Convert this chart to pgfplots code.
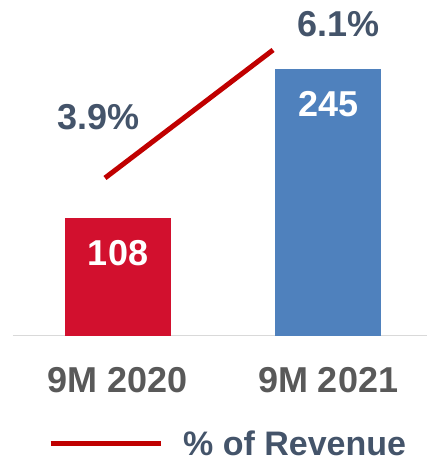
\documentclass[border=0pt]{standalone}
\usepackage{fontspec}
\setmainfont{Liberation Sans}
\usepackage{pgfplots}
\pgfplotsset{compat=1.18}
\definecolor{barred}{RGB}{210,16,46}
\definecolor{barblue}{RGB}{79,129,189}
\definecolor{linered}{RGB}{192,0,0}
\definecolor{slate}{RGB}{68,84,106}
\definecolor{labelgray}{RGB}{89,89,89}
\definecolor{axisgray}{RGB}{217,217,217}
\newcommand{\bigfont}{\fontsize{36}{40}\selectfont\bfseries}

\begin{document}
\begin{tikzpicture}
\path[use as bounding box] (0,0) rectangle (427pt,460pt);
% bars
\begin{axis}[
    at={(13pt,124pt)}, anchor=south west,
    scale only axis, width=414pt, height=336pt,
    xmin=-0.5, xmax=1.471, ymin=0, ymax=308.5,
    axis x line*=bottom, axis y line=none,
    x axis line style={-, axisgray, line width=1pt},
    xtick={0,1}, xticklabels={9M 2020, 9M 2021},
    major tick length=0pt,
    xticklabel style={font=\bigfont, text=labelgray, anchor=center, yshift=-44pt},
    ytick=\empty,
    ybar, bar width=0.505, bar shift=0pt,
    nodes near coords,
    /pgf/number format/assume math mode=true,
    every node near coord/.append style={font=\bigfont, text=white, anchor=center, yshift=-35pt},
    clip=false,
]
\addplot[fill=barred, draw=none, bar shift=0pt] coordinates {(0,108)};
\addplot[fill=barblue, draw=none, bar shift=0pt] coordinates {(1,245)};
\end{axis}
% % of revenue line
\begin{axis}[
    at={(13pt,124pt)}, anchor=south west,
    scale only axis, width=414pt, height=336pt,
    xmin=-0.5, xmax=1.471, ymin=1.184, ymax=6.959,
    hide axis, clip=false,
    legend style={at={(0.0845,-0.321)}, anchor=west, draw=none, fill=none,
        inner sep=0pt, nodes={inner sep=0pt},
        /tikz/every odd column/.style={column sep=20pt},
        font=\fontsize{34}{38}\selectfont\bfseries, text=slate},
    legend image code/.code={\draw[#1] (0pt,0pt) -- (110pt,0pt);},
]
\addplot[linered, line width=5pt] coordinates {(-0.062,3.9) (0.738,6.1)};
\addlegendentry{\% of Revenue}
\node[font=\bigfont, text=slate] at (axis cs:-0.095,4.948) {3.9\%};
\node[font=\bigfont, text=slate] at (axis cs:1.048,6.547) {6.1\%};
\end{axis}
\end{tikzpicture}
\end{document}
